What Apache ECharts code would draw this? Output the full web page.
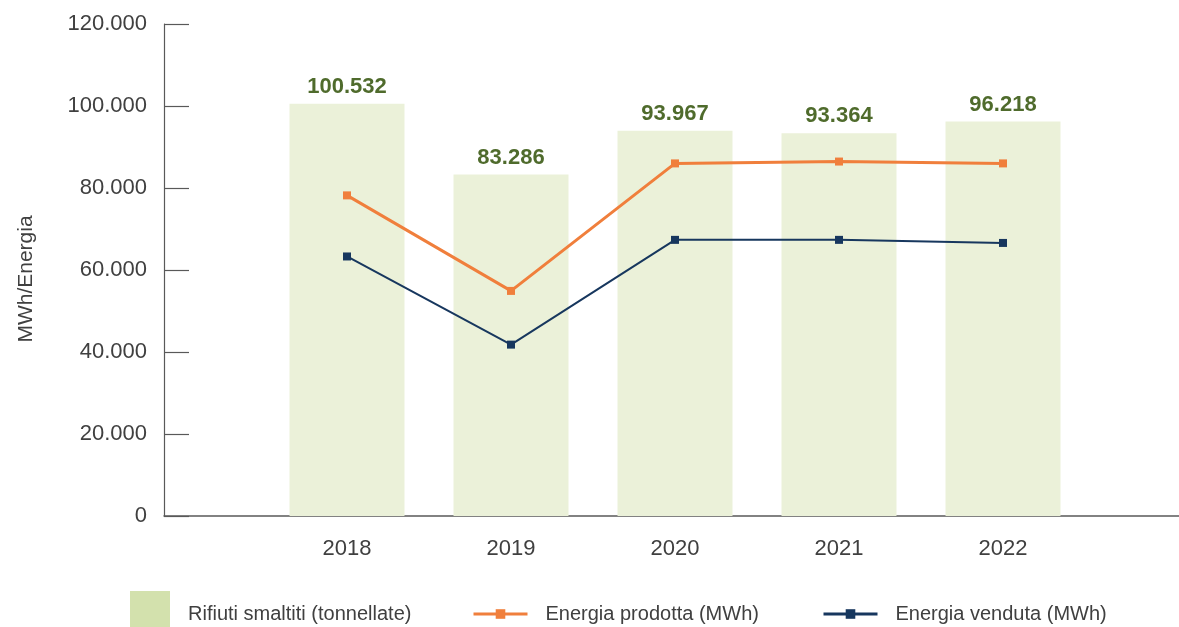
<!DOCTYPE html>
<html>
<head>
<meta charset="utf-8">
<title>Rifiuti ed energia</title>
<script src="https://cdn.jsdelivr.net/npm/echarts@6/dist/echarts.min.js"></script>
<style>
  html, body { margin: 0; padding: 0; background: #fff; }
  #chart { width: 1179px; height: 627px; }
</style>
</head>
<body>
<div id="chart"></div>
<script>
// dati
var years = ['2018', '2019', '2020', '2021', '2022'];
var rifiuti = [100532, 83286, 93967, 93364, 96218];        // tonnellate
var energiaProdotta = [78200, 54900, 86000, 86450, 86000]; // MWh
var energiaVenduta = [63300, 41800, 67350, 67350, 66600];  // MWh
var yTicks = [0, 20000, 40000, 60000, 80000, 100000, 120000];

var nomi = ['Rifiuti smaltiti (tonnellate)', 'Energia prodotta (MWh)', 'Energia venduta (MWh)'];
var FONT = 'Liberation Sans';

// separatore delle migliaia all'italiana
function fmt(v) {
	return String(v).replace(/\B(?=(\d{3})+(?!\d))/g, '.');
}

var chart = echarts.init(document.getElementById('chart'));

var option = {
	animation: false,
	textStyle: { fontFamily: FONT },
	grid: [
		// cornice degli assi
		{ left: 164, right: 0, top: 24, bottom: 111 },
		// area dei dati
		{ left: 265, right: 94, top: 24, bottom: 111 }
	],
	xAxis: [
		{
			type: 'value', gridIndex: 0, min: 0, max: 1,
			axisLine: { show: true, lineStyle: { color: '#595959', width: 1.5 } },
			axisTick: { show: false }, axisLabel: { show: false }, splitLine: { show: false }
		},
		{
			type: 'category', gridIndex: 1, data: years,
			axisLine: { show: false }, axisTick: { show: false },
			axisLabel: { margin: 22, fontSize: 22, color: '#404040', fontFamily: FONT }
		}
	],
	yAxis: [
		{
			type: 'value', gridIndex: 0,
			min: yTicks[0], max: yTicks[yTicks.length - 1], interval: yTicks[1] - yTicks[0],
			name: 'MWh/Energia', nameLocation: 'middle', nameGap: 127,
			nameTextStyle: { fontSize: 21, color: '#404040', fontFamily: FONT, padding: [0, 18, 0, 0] },
			axisLine: { show: true, lineStyle: { color: '#595959', width: 1.2 } },
			axisTick: { show: true, inside: true, length: 25, lineStyle: { color: '#595959', width: 1.2 } },
			axisLabel: { margin: 17, fontSize: 22, color: '#404040', fontFamily: FONT, formatter: fmt },
			splitLine: { show: false }
		},
		{
			type: 'value', gridIndex: 1,
			min: yTicks[0], max: yTicks[yTicks.length - 1], interval: yTicks[1] - yTicks[0],
			show: false, splitLine: { show: false }
		}
	],
	legend: [
		{
			left: 125, top: 586, itemWidth: 40, itemHeight: 36, icon: 'rect',
			data: [{ name: nomi[0], itemStyle: { color: '#d3e1ad' } }],
			formatter: '{t|{name}}',
			textStyle: {
				fontSize: 20, color: '#404040', fontFamily: FONT, padding: [0, 0, 0, 13],
				rich: { t: { fontSize: 20, color: '#404040', fontFamily: FONT, padding: [10, 0, 0, 0] } }
			}
		},
		{
			left: 467, top: 599, itemWidth: 54, itemHeight: 12,
			data: [{ name: nomi[1], lineStyle: { width: 3 } }],
			textStyle: { fontSize: 20, color: '#404040', fontFamily: FONT, padding: [0, 0, 0, 13] }
		},
		{
			left: 817, top: 599, itemWidth: 54, itemHeight: 12,
			data: [{ name: nomi[2], lineStyle: { width: 3 } }],
			textStyle: { fontSize: 20, color: '#404040', fontFamily: FONT, padding: [0, 0, 0, 13] }
		}
	],
	series: [
		{
			name: nomi[0], type: 'bar', xAxisIndex: 1, yAxisIndex: 1,
			data: rifiuti, barWidth: 115,
			itemStyle: { color: '#ebf1d9' },
			label: {
				show: true, position: 'top', distance: 6,
				fontSize: 22, fontWeight: 'bold', color: '#4f6b2c', fontFamily: FONT,
				formatter: function (p) { return fmt(p.value); }
			}
		},
		{
			name: nomi[1], type: 'line', xAxisIndex: 1, yAxisIndex: 1,
			data: energiaProdotta, z: 3,
			symbol: 'rect', symbolSize: 8,
			itemStyle: { color: '#f07f3c' },
			lineStyle: { color: '#f07f3c', width: 3 }
		},
		{
			name: nomi[2], type: 'line', xAxisIndex: 1, yAxisIndex: 1,
			data: energiaVenduta, z: 3,
			symbol: 'rect', symbolSize: 8,
			itemStyle: { color: '#17375e' },
			lineStyle: { color: '#17375e', width: 2 }
		}
	]
};

chart.setOption(option);
</script>
</body>
</html>
